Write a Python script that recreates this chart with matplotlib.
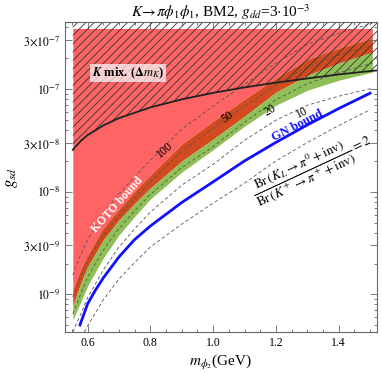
import numpy as np
import matplotlib
matplotlib.use('Agg')
import matplotlib.pyplot as plt
from matplotlib.ticker import FixedLocator, FixedFormatter

plt.rcParams['font.family'] = 'serif'
plt.rcParams['font.serif'] = ['Liberation Serif', 'DejaVu Serif']
plt.rcParams['mathtext.fontset'] = 'stix'
plt.rcParams['hatch.linewidth'] = 0.6

# x grid shared by the KOTO bands and most contours (m_phi2 in GeV)
m_band = [0.553, 0.58, 0.6, 0.65, 0.7, 0.75, 0.8, 0.9, 1.0, 1.1, 1.2, 1.3, 1.4, 1.507]
red_low = [1.106e-9, 1.81e-9, 2.42e-9, 4.44e-9, 6.79e-9, 1.01e-8, 1.454e-8, 2.91e-8,
           4.87e-8, 7.98e-8, 1.277e-7, 1.954e-7, 2.50e-7, 3.13e-7]
orange_low = [7.73e-10, 1.32e-9, 1.85e-9, 3.39e-9, 5.31e-9, 7.7e-9, 1.087e-8, 1.99e-8,
              3.26e-8, 5.45e-8, 9.33e-8, 1.364e-7, 1.787e-7, 2.29e-7]
green_low = [5.65e-10, 8.65e-10, 1.21e-9, 2.26e-9, 3.79e-9, 5.75e-9, 8.49e-9, 1.555e-8,
             2.57e-8, 4.355e-8, 6.97e-8, 9.75e-8, 1.22e-7, 1.46e-7]
red_top = 3.9e-7

# K mixing bound (hatched above)
m_kmix = [0.553, 0.56, 0.58, 0.6, 0.65, 0.7, 0.8, 0.9, 1.0, 1.1, 1.2, 1.3, 1.4, 1.5, 1.522]
g_kmix = [2.56e-8, 2.72e-8, 3.16e-8, 3.56e-8, 4.43e-8, 5.22e-8, 6.64e-8, 7.95e-8,
          9.2e-8, 1.04e-7, 1.157e-7, 1.27e-7, 1.39e-7, 1.5e-7, 1.52e-7]

# GN bound
m_gn = [0.576, 0.6, 0.625, 0.65, 0.7, 0.75, 0.8, 0.9, 1.0, 1.1, 1.2, 1.3, 1.4, 1.5]
g_gn = [5.05e-10, 8.09e-10, 1.1e-9, 1.447e-9, 2.32e-9, 3.43e-9, 4.64e-9, 7.87e-9,
        1.25e-8, 2.0e-8, 3.03e-8, 4.48e-8, 6.47e-8, 9.14e-8]

# ratio contours Br(KL)/Br(K+)
c100 = [1.548e-9, 2.53e-9, 3.39e-9, 6.21e-9, 9.50e-9, 1.40e-8, 2.03e-8, 4.07e-8,
        6.82e-8, 1.116e-7, 1.787e-7, 2.735e-7, 3.50e-7, 4.38e-7]
c50 = [9.46e-10, 1.548e-9, 2.07e-9, 3.79e-9, 5.80e-9, 8.6e-9, 1.243e-8, 2.49e-8,
       4.165e-8, 6.82e-8, 1.091e-7, 1.671e-7, 2.14e-7, 2.67e-7]
c20 = [6.46e-10, 1.046e-9, 1.463e-9, 2.71e-9, 4.385e-9, 6.5e-9, 9.39e-9, 1.719e-8,
       2.75e-8, 4.76e-8, 7.88e-8, 1.128e-7, 1.443e-7, 1.787e-7]
c10 = [4.32e-10, 6.61e-10, 9.25e-10, 1.73e-9, 2.90e-9, 4.35e-9, 6.34e-9, 1.161e-8,
       1.85e-8, 3.18e-8, 4.98e-8, 6.97e-8, 8.53e-8, 1.02e-7]
m_c2 = [0.59, 0.6, 0.65, 0.7, 0.75, 0.8, 0.9, 1.0, 1.1, 1.2, 1.3, 1.4, 1.5]
c2 = [4.32e-10, 4.94e-10, 8.84e-10, 1.416e-9, 2.05e-9, 2.90e-9, 4.85e-9, 7.76e-9,
      1.215e-8, 2.0e-8, 3.02e-8, 4.42e-8, 6.31e-8]

ytick_vals = [1e-9, 3e-9, 1e-8, 3e-8, 1e-7, 3e-7]
ytick_labels = [r'$10^{-9}$', r'$3\!\times\!10^{-9}$', r'$10^{-8}$',
                r'$3\!\times\!10^{-8}$', r'$10^{-7}$', r'$3\!\times\!10^{-7}$']

fig = plt.figure(figsize=(3.82, 3.74), dpi=100)
ax = fig.add_axes([0.170, 0.112, 0.817, 0.829])
ax.set_yscale('log')

ax.fill_between(m_band, red_low, red_top, color='#ff6464', lw=0, zorder=1)
ax.fill_between(m_band, orange_low, red_low, color='#d24a1e', lw=0, zorder=1)
ax.fill_between(m_band, green_low, orange_low, color='#8fc058', lw=0, zorder=1)

ax.fill_between(m_kmix, g_kmix, 4.6e-7, facecolor='none', edgecolor='#333333',
                lw=0, hatch='////', zorder=2)
ax.plot(m_kmix, g_kmix, color='#222222', lw=1.3, zorder=4)

for yy in [c100, c50, c20, c10]:
    ax.plot(m_band, yy, color='#555555', lw=0.6, ls=(0, (4, 3)), zorder=3)
ax.plot(m_c2, c2, color='#555555', lw=0.6, ls=(0, (4, 3)), zorder=3)

ax.plot(m_gn, g_gn, color='#1010ff', lw=2.0, zorder=5)

# labels
ax.text(0.694, 7.4e-9, 'KOTO bound', color='white', fontsize=8.5, fontweight='bold',
        rotation=48, ha='center', va='center', rotation_mode='anchor', zorder=6)
ax.text(0.729, 1.43e-7, r'$\boldsymbol{K}$ mix. ($\boldsymbol{\Delta m_K}$)', fontsize=9,
        fontweight='bold', ha='center', va='center', zorder=6,
        bbox=dict(boxstyle='square,pad=0.12', fc='white', ec='none', alpha=0.7))
for xx, yy, s, r in [(0.847, 2.55e-8, '100', 40), (1.045, 5.33e-8, '50', 36),
                     (1.182, 6.24e-8, '20', 30), (1.284, 5.83e-8, '10', 26)]:
    ax.text(xx, yy, s, fontsize=8.5, rotation=r, ha='center', va='center',
            rotation_mode='anchor', zorder=6)
ax.text(1.268, 4.4e-8, 'GN bound', color='#1010ff', fontsize=9, fontweight='bold',
        rotation=27, ha='center', va='center', rotation_mode='anchor', zorder=6)
ax.text(1.316, 1.7e-8,
        r'$\dfrac{\mathrm{Br}\,(K_L \rightarrow \pi^0 + \mathrm{inv})}'
        r'{\mathrm{Br}\,(K^+ \rightarrow \pi^+ + \mathrm{inv})} = 2$',
        fontsize=9.5, rotation=25, ha='center', va='center', rotation_mode='anchor', zorder=6)

ax.set_xlim(0.528, 1.522)
ax.set_ylim(4.3e-10, 4.5e-7)

ax.xaxis.set_major_locator(FixedLocator([0.6, 0.8, 1.0, 1.2, 1.4]))
ax.xaxis.set_minor_locator(FixedLocator(np.arange(0.55, 1.52, 0.05)))
ax.set_xticklabels(['0.6', '0.8', '1.0', '1.2', '1.4'])
minor_y = [k * 10.0**e for e in range(-10, -6) for k in [2, 4, 5, 6, 7, 8, 9]]
ax.yaxis.set_major_locator(FixedLocator(ytick_vals))
ax.yaxis.set_major_formatter(FixedFormatter(ytick_labels))
ax.yaxis.set_minor_locator(FixedLocator(minor_y))
ax.yaxis.set_minor_formatter(FixedFormatter([''] * len(minor_y)))

ax.tick_params(which='both', direction='in', top=True, right=True, color='#666666',
               labelsize=8.5, width=0.6)
ax.tick_params(which='major', length=5)
ax.tick_params(which='minor', length=2.5)
for sp in ax.spines.values():
    sp.set_color('#666666')
    sp.set_linewidth(0.8)

ax.set_xlabel(r'$m_{\phi_2}$(GeV)', fontsize=11, labelpad=3)
ax.set_ylabel(r'$g_{sd}$', fontsize=12, labelpad=2)
ax.set_title(r'$K\!\to\!\pi\phi_1\phi_1$, BM2, $g_{dd}$=3$\cdot$10$^{-3}$', fontsize=11, pad=3)

plt.savefig('out.png', dpi=100)
